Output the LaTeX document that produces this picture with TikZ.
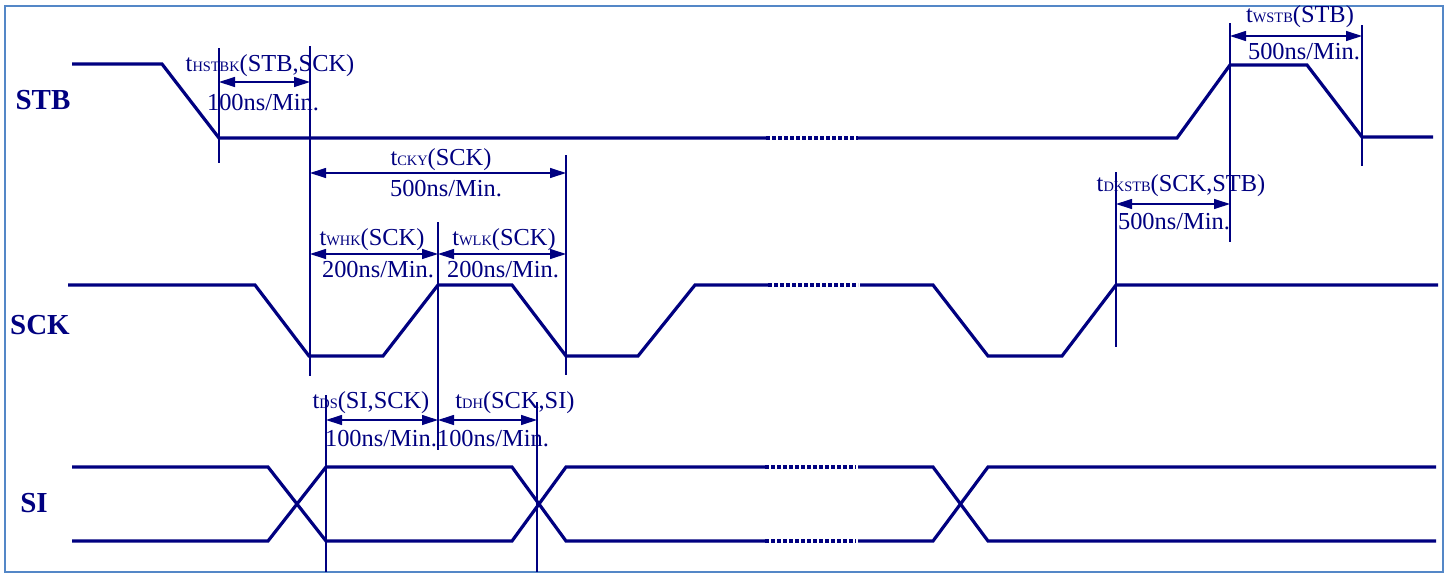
\documentclass[tikz,border=0pt]{standalone}
\usepackage{fontspec}
\setmainfont{Liberation Serif}
\usetikzlibrary{arrows.meta,calc}
\definecolor{colorSIG}{RGB}{0,0,128}
\definecolor{colorFRAME}{RGB}{84,135,199}
\newcommand{\tsub}[1]{t{\fontsize{7.2}{8}\selectfont #1}}
\tikzset{
   every path/.style={>={Triangle[length=8pt,width=5pt]}},
   sig/.style={colorSIG,line width=1.6pt},
   gap/.style={colorSIG,line width=1.6pt,dash pattern=on 2pt off 1pt},
   guide/.style={colorSIG,line width=0.75pt},
   span/.style={<->,colorSIG,line width=0.6pt},
   lbl/.style={text=colorSIG,font=\fontsize{12.2}{14}\selectfont,inner sep=0pt},
   sname/.style={text=colorSIG,font=\fontsize{14.5}{16}\selectfont\bfseries,inner sep=0pt},
}

\begin{document}
\begin{tikzpicture}[x=0.5pt,y=-0.5pt]
        \useasboundingbox (0,0) rectangle (1448,574);
        \draw[colorFRAME,line width=1pt] (5,6) rectangle (1443,572);

        % signal names
        \node[sname] (stb) at (43,100) {STB};
        \node[sname] (sck) at (40,325) {SCK};
        \node[sname] (si)  at (34,503) {SI};

        % STB
        \draw[sig] (72,64) -- (162,64) -- (219,138) -- (766,138);
        \draw[gap] (766,138) -- (858,138);
        \draw[sig] (858,138) -- (1177,138) -- (1230,65) -- (1307,65) -- (1362,137) -- (1433,137);

        % SCK
        \draw[sig] (68,285) -- (255,285) -- (309,356) -- (383,356) -- (438,285) -- (512,285)
                   -- (566,356) -- (638,356) -- (695,285) -- (768,285);
        \draw[gap] (768,285) -- (858,285);
        \draw[sig] (860,285) -- (933,285) -- (988,356) -- (1062,356) -- (1116,285) -- (1438,285);

        % SI
        \draw[sig] (72,467) -- (268,467) -- (326,541) -- (512,541) -- (566,467) -- (765,467);
        \draw[sig] (72,541) -- (268,541) -- (326,467) -- (512,467) -- (566,541) -- (765,541);
        \draw[gap] (765,467) -- (856,467);
        \draw[gap] (765,541) -- (856,541);
        \draw[sig] (858,467) -- (933,467) -- (988,541) -- (1436,541);
        \draw[sig] (858,541) -- (933,541) -- (988,467) -- (1436,467);

        % guide lines
        \coordinate (g1t) at (219,48);   \coordinate (g1b) at (219,163);
        \coordinate (g2t) at (310,46);   \coordinate (g2b) at (310,376);
        \coordinate (g3t) at (566,155);  \coordinate (g3b) at (566,375);
        \coordinate (g4t) at (438,222);  \coordinate (g4b) at (438,450);
        \coordinate (g5t) at (326,395);  \coordinate (g5b) at (326,572);
        \coordinate (g6t) at (537,402);  \coordinate (g6b) at (537,572);
        \coordinate (g7t) at (1116,172); \coordinate (g7b) at (1116,347);
        \coordinate (g8t) at (1230,23);  \coordinate (g8b) at (1230,242);
        \coordinate (g9t) at (1362,25);  \coordinate (g9b) at (1362,166);
        \foreach \g in {1,...,9}
            \draw[guide] (g\g t) -- (g\g b);

        % timing spans
        \draw[span] (g1t |- 0,82)  -- (g2t |- 0,82);
        \draw[span] (g2t |- 0,173) -- (g3t |- 0,173);
        \draw[span] (g2t |- 0,254) -- (g4t |- 0,254);
        \draw[span] (g4t |- 0,254) -- (g3t |- 0,254);
        \draw[span] (g5t |- 0,420) -- (g4t |- 0,420);
        \draw[span] (g4t |- 0,420) -- (g6t |- 0,420);
        \draw[span] (g7t |- 0,204) -- (g8t |- 0,204);
        \draw[span] (g8t |- 0,36)  -- (g9t |- 0,36);

        % labels
        \node[lbl] (hstbk)  at (270,66)   {\tsub{HSTBK}(STB,SCK)};
        \node[lbl] (hstbkv) at (263,103)  {100ns/Min.};
        \node[lbl] (cky)    at (441,160)  {\tsub{CKY}(SCK)};
        \node[lbl] (ckyv)   at (446,189)  {500ns/Min.};
        \node[lbl] (whk)    at (372,240)  {\tsub{WHK}(SCK)};
        \node[lbl] (whkv)   at (378,270)  {200ns/Min.};
        \node[lbl] (wlk)    at (504,240)  {\tsub{WLK}(SCK)};
        \node[lbl] (wlkv)   at (503,270)  {200ns/Min.};
        \node[lbl] (ds)     at (371,403)  {\tsub{DS}(SI,SCK)};
        \node[lbl] (dsv)    at (381,439)  {100ns/Min.};
        \node[lbl] (dh)     at (515,403)  {\tsub{DH}(SCK,SI)};
        \node[lbl] (dhv)    at (493,439)  {100ns/Min.};
        \node[lbl] (dkstb)  at (1181,186) {\tsub{DKSTB}(SCK,STB)};
        \node[lbl] (dkstbv) at (1174,222) {500ns/Min.};
        \node[lbl] (wstb)   at (1300,17)  {\tsub{WSTB}(STB)};
        \node[lbl] (wstbv)  at (1304,52)  {500ns/Min.};
\end{tikzpicture}
\end{document}
